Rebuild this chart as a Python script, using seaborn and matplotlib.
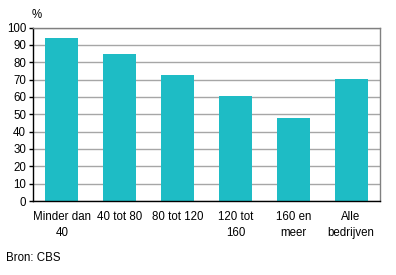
import matplotlib
matplotlib.use("Agg")
import matplotlib.pyplot as plt
import seaborn as sns
import pandas as pd

categories = ["Minder dan\n40", "40 tot 80", "80 tot 120", "120 tot\n160", "160 en\nmeer", "Alle\nbedrijven"]
values = [94, 85, 72.5, 60.5, 48, 70.3]
yticks = list(range(0, 101, 10))

sns.set_theme(style="white")
plt.rcParams['font.family'] = ['Liberation Sans', 'DejaVu Sans']
plt.rcParams['text.color'] = 'black'
plt.rcParams['xtick.color'] = 'black'
plt.rcParams['ytick.color'] = 'black'

df = pd.DataFrame({"cat": categories, "val": values})
fig = plt.figure(figsize=(3.96, 2.75), dpi=100)
ax = fig.add_axes([33/396, 1 - 201/275, 347/396, 173.5/275])
sns.barplot(data=df, x="cat", y="val", color="#1EBCC5", saturation=1, width=0.57,
            edgecolor="none", linewidth=0, ax=ax)
ax.set_ylim(0, 100)
ax.set_yticks(yticks)
ax.set_xlim(-0.5, 5.5)
ax.yaxis.grid(True, color="#A6A6A6", linewidth=1)
ax.set_axisbelow(True)
ax.set_xlabel("")
ax.set_ylabel("")
ax.tick_params(axis="y", length=3, width=1, colors="black", labelsize=8.3, pad=2, left=True)
ax.tick_params(axis="x", length=0, labelsize=8.3, pad=7, colors="black")
for t in ax.get_xticklabels():
    t.set_linespacing(1.5)
ax.spines["left"].set_color("black")
ax.spines["bottom"].set_color("black")
ax.spines["top"].set_color("#808080")
ax.spines["right"].set_color("#808080")
for s in ax.spines.values():
    s.set_linewidth(1)
fig.text(32/396, 1 - 15/275, "%", fontsize=8.3, ha="left", va="center", color="black")
fig.text(6/396, 1 - 258/275, "Bron: CBS", fontsize=8.3, ha="left", va="center", color="black")
fig.savefig("out.png", dpi=100)
